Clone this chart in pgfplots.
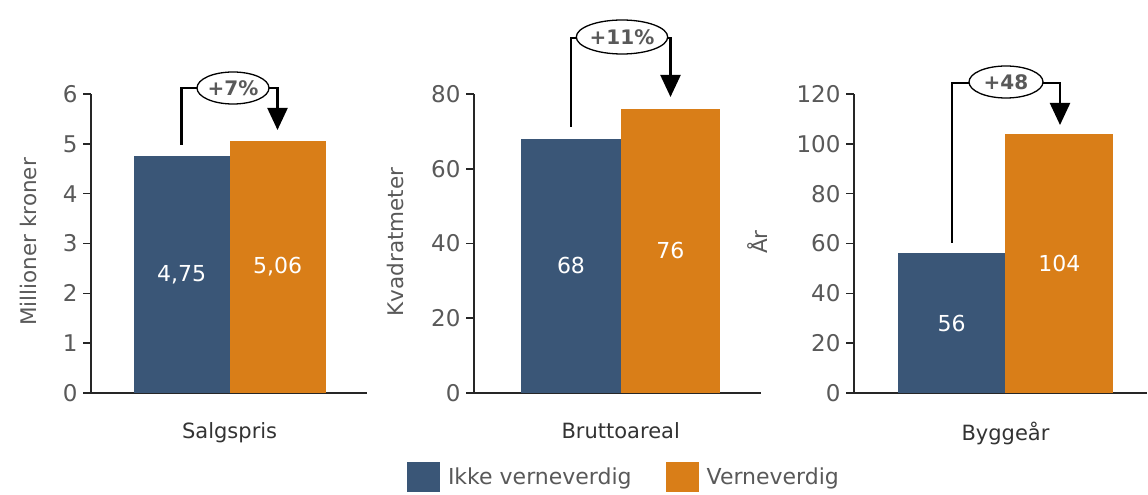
\documentclass[border=0pt]{standalone}
\usepackage{pgfplots}
\pgfplotsset{compat=1.18}
\usepackage{fontspec}
\setmainfont{DejaVu Sans}
\usetikzlibrary{arrows.meta,shapes.geometric}

\definecolor{cblue}{HTML}{3A5677}
\definecolor{corange}{HTML}{D97E18}
\definecolor{tgray}{HTML}{595959}

\pgfplotsset{
  panel/.style={
    scale only axis,
    height=299pt,
    anchor=south west,
    ymin=0,
    axis x line=bottom,
    axis y line=left,
    axis line style={-, line width=1.6pt, black!85},
    ytick pos=left,
    tick align=outside,
    major tick length=8pt,
    y tick style={line width=1.6pt, black!85},
    xtick={0.5},
    x tick style={draw=none},
    ybar, bar width=1, bar shift=0pt,
    clip=false,
    font=\fontsize{21}{25}\selectfont,
    tick label style={tgray, font=\fontsize{23}{27}\selectfont},
    yticklabel style={xshift=-2pt},
    /pgf/number format/assume math mode=true,
    xticklabel style={black!80, yshift=-18pt, font=\fontsize{21}{25}\selectfont},
    every axis y label/.style={rotate=90, anchor=center, tgray,
      font=\fontsize{21.5}{25}\selectfont},
  },
}
\tikzset{
  ann/.style={line width=2.2pt},
  bub/.style={draw=black, line width=1.3pt, ellipse, fill=white, text=tgray,
    font=\fontsize{20}{24}\selectfont\bfseries, inner sep=0pt},
  val/.style={white, font=\fontsize{22}{26}\selectfont},
}

\begin{document}
\begin{tikzpicture}[x=1pt,y=1pt]
\useasboundingbox (0,0) rectangle (1148,495);

% Panel 1
\begin{axis}[panel, at={(91pt,102pt)}, width=276pt,
  xmin=-0.943, xmax=1.93, ymax=6, ytick={0,1,...,6},
  xticklabels={Salgspris},
  ylabel={Millioner kroner},
  every axis y label/.append style={at={(rel axis cs:-0.228,0.505)}}]
\addplot[fill=cblue, draw=none] coordinates {(0,4.75)};
\addplot[fill=corange, draw=none] coordinates {(1,5.06)};
\node[val] at (axis cs:0,2.375) {4,75};
\node[val] at (axis cs:1,2.53) {5,06};
\end{axis}

% Panel 2
\begin{axis}[panel, at={(474pt,102pt)}, width=287pt,
  xmin=-0.975, xmax=1.91, ymax=80, ytick={0,20,...,80},
  xticklabels={Bruttoareal},
  ylabel={Kvadratmeter},
  every axis y label/.append style={at={(rel axis cs:-0.275,0.505)}},
  legend style={at={(0.526,-0.281)}, anchor=center, draw=none,
    legend columns=2, font=\fontsize{22}{26}\selectfont, text=tgray,
    /tikz/every odd column/.style={column sep=4pt},
    /tikz/every even column/.style={column sep=30pt},
    nodes={inner sep=4pt}},
  legend image code/.code={\fill[#1] (0pt,-15pt) rectangle (33pt,15pt);}]
\addplot[fill=cblue, draw=none] coordinates {(0,68)};
\addplot[fill=corange, draw=none] coordinates {(1,76)};
\node[val] at (axis cs:0,34) {68};
\node[val] at (axis cs:1,38) {76};
\legend{Ikke verneverdig, Verneverdig}
\end{axis}

% Panel 3
\begin{axis}[panel, at={(854pt,102pt)}, width=293pt,
  xmin=-0.907, xmax=1.815, ymax=120, ytick={0,20,...,120},
  xticklabels={Byggeår},
  ylabel={År},
  every axis y label/.append style={at={(rel axis cs:-0.331,0.505)}}]
\addplot[fill=cblue, draw=none] coordinates {(0,56)};
\addplot[fill=corange, draw=none] coordinates {(1,104)};
\node[val] at (axis cs:0,28) {56};
\node[val] at (axis cs:1,52) {104};
\end{axis}

% change annotations
\draw[ann] (181.5,350) -- (181.5,407) -- (198,407);
\draw[ann, -{Triangle[width=20pt,length=22pt]}] (268,407) -- (277.5,407) -- (277.5,365);
\node[bub, minimum width=72pt, minimum height=32pt] at (233,407) {+7\%};

\draw[ann] (571,368) -- (571,457) -- (578,457);
\draw[ann, -{Triangle[width=20pt,length=22pt]}] (666,457) -- (670.5,457) -- (670.5,398);
\node[bub, minimum width=90pt, minimum height=34pt] at (622,458) {+11\%};

\draw[ann] (952,252) -- (952,412) -- (970,412);
\draw[ann, -{Triangle[width=20pt,length=22pt]}] (1042,412) -- (1060,412) -- (1060,370);
\node[bub, minimum width=74pt, minimum height=32pt] at (1006,413) {+48};
\end{tikzpicture}
\end{document}
